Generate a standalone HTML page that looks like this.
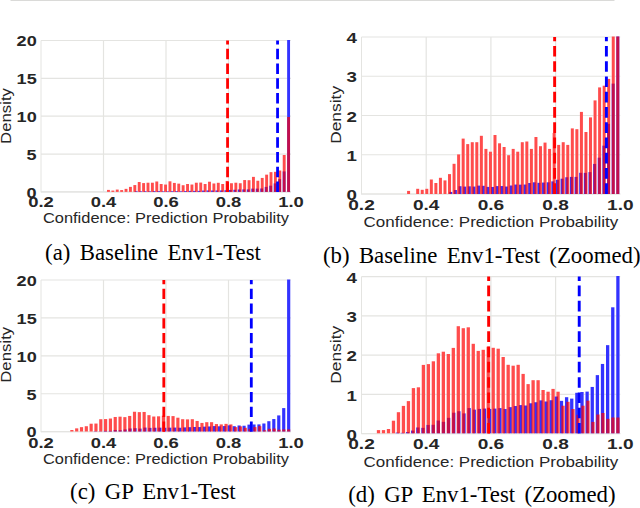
<!DOCTYPE html>
<html><head><meta charset="utf-8"><style>
html,body{margin:0;padding:0;background:#fff;width:640px;height:508px;overflow:hidden}
svg{display:block}
.tk{font-family:"Liberation Sans",sans-serif;font-weight:bold;fill:#262626}
.lb{font-family:"Liberation Sans",sans-serif;fill:#262626}
.cap{font-family:"Liberation Serif",serif;font-size:22.8px;word-spacing:3.6px;fill:#000}
</style></head><body>
<svg width="640" height="508" viewBox="0 0 640 508">
<rect x="0" y="0" width="640" height="508" fill="#fff"/>
<rect x="10.5" y="0" width="604" height="1" fill="#dadad8"/>
<g stroke="#e4e4e1" stroke-width="1.2"><line x1="41.00" y1="191.90" x2="291.00" y2="191.90" /><line x1="41.00" y1="154.05" x2="291.00" y2="154.05" /><line x1="41.00" y1="116.20" x2="291.00" y2="116.20" /><line x1="41.00" y1="78.35" x2="291.00" y2="78.35" /><line x1="41.00" y1="40.50" x2="291.00" y2="40.50" /><line x1="103.50" y1="40.50" x2="103.50" y2="191.90" /><line x1="166.00" y1="40.50" x2="166.00" y2="191.90" /><line x1="228.50" y1="40.50" x2="228.50" y2="191.90" /></g><g stroke="#e4e4e1" stroke-width="1"><line x1="41.00" y1="40.50" x2="41.00" y2="192.40" /><line x1="41.00" y1="191.90" x2="291.00" y2="191.90" /></g><clipPath id="c2"><rect x="41.00" y="40.00" width="252.00" height="151.90"/></clipPath><g clip-path="url(#c2)"><g fill="#fff"><rect x="134.74" y="191.20" width="2.90" height="0.70"/><rect x="139.22" y="191.27" width="2.90" height="0.63"/><rect x="143.70" y="191.22" width="2.90" height="0.68"/><rect x="148.19" y="191.27" width="2.90" height="0.63"/><rect x="152.67" y="191.08" width="2.90" height="0.82"/><rect x="157.15" y="191.12" width="2.90" height="0.78"/><rect x="161.63" y="191.33" width="2.90" height="0.57"/><rect x="166.12" y="191.34" width="2.90" height="0.56"/><rect x="170.60" y="191.18" width="2.90" height="0.72"/><rect x="175.08" y="191.16" width="2.90" height="0.74"/><rect x="179.56" y="191.26" width="2.90" height="0.64"/><rect x="184.04" y="191.06" width="2.90" height="0.84"/><rect x="188.53" y="190.88" width="2.90" height="1.02"/><rect x="193.01" y="190.90" width="2.90" height="1.00"/><rect x="197.49" y="190.87" width="2.90" height="1.03"/><rect x="201.97" y="190.58" width="2.90" height="1.32"/><rect x="206.46" y="190.44" width="2.90" height="1.46"/><rect x="210.94" y="190.54" width="2.90" height="1.36"/><rect x="215.42" y="190.49" width="2.90" height="1.41"/><rect x="219.90" y="190.44" width="2.90" height="1.46"/><rect x="224.38" y="190.26" width="2.90" height="1.64"/><rect x="228.87" y="189.95" width="2.90" height="1.95"/><rect x="233.35" y="189.75" width="2.90" height="2.15"/><rect x="237.83" y="189.47" width="2.90" height="2.43"/><rect x="242.31" y="189.40" width="2.90" height="2.50"/><rect x="246.80" y="189.40" width="2.90" height="2.50"/><rect x="251.28" y="188.61" width="2.90" height="3.29"/><rect x="255.76" y="188.62" width="2.90" height="3.28"/><rect x="260.24" y="188.48" width="2.90" height="3.42"/><rect x="264.72" y="186.90" width="2.90" height="5.00"/><rect x="269.21" y="185.69" width="2.90" height="6.21"/><rect x="273.69" y="183.37" width="2.90" height="8.53"/><rect x="278.17" y="179.16" width="2.90" height="12.74"/><rect x="282.65" y="171.41" width="2.90" height="20.49"/><rect x="287.14" y="38.50" width="2.90" height="153.40"/><rect x="107.01" y="189.90" width="2.90" height="2.00"/><rect x="111.40" y="190.58" width="2.90" height="1.32"/><rect x="115.79" y="189.58" width="2.90" height="2.32"/><rect x="120.19" y="190.08" width="2.90" height="1.82"/><rect x="124.58" y="188.86" width="2.90" height="3.04"/><rect x="128.97" y="186.88" width="2.90" height="5.02"/><rect x="133.37" y="185.06" width="2.90" height="6.84"/><rect x="137.76" y="182.02" width="2.90" height="9.88"/><rect x="142.15" y="183.08" width="2.90" height="8.82"/><rect x="146.55" y="182.71" width="2.90" height="9.19"/><rect x="150.94" y="182.71" width="2.90" height="9.19"/><rect x="155.33" y="181.48" width="2.90" height="10.42"/><rect x="159.73" y="184.00" width="2.90" height="7.90"/><rect x="164.12" y="184.54" width="2.90" height="7.36"/><rect x="168.51" y="181.32" width="2.90" height="10.58"/><rect x="172.91" y="182.92" width="2.90" height="8.98"/><rect x="177.30" y="183.64" width="2.90" height="8.26"/><rect x="181.69" y="185.22" width="2.90" height="6.68"/><rect x="186.09" y="184.00" width="2.90" height="7.90"/><rect x="190.48" y="184.54" width="2.90" height="7.36"/><rect x="194.87" y="182.71" width="2.90" height="9.19"/><rect x="199.27" y="182.57" width="2.90" height="9.33"/><rect x="203.66" y="184.00" width="2.90" height="7.90"/><rect x="208.05" y="181.71" width="2.90" height="10.19"/><rect x="212.45" y="183.48" width="2.90" height="8.42"/><rect x="216.84" y="182.79" width="2.90" height="9.11"/><rect x="221.23" y="184.00" width="2.90" height="7.90"/><rect x="225.63" y="180.94" width="2.90" height="10.96"/><rect x="230.02" y="183.23" width="2.90" height="8.67"/><rect x="234.41" y="182.71" width="2.90" height="9.19"/><rect x="238.81" y="183.23" width="2.90" height="8.67"/><rect x="243.20" y="180.05" width="2.90" height="11.85"/><rect x="247.59" y="180.20" width="2.90" height="11.70"/><rect x="251.99" y="176.87" width="2.90" height="15.03"/><rect x="256.38" y="180.74" width="2.90" height="11.16"/><rect x="260.78" y="177.93" width="2.90" height="13.97"/><rect x="265.17" y="174.65" width="2.90" height="17.25"/><rect x="269.56" y="172.14" width="2.90" height="19.76"/><rect x="273.96" y="171.81" width="2.90" height="20.09"/><rect x="278.35" y="170.50" width="2.90" height="21.40"/><rect x="282.74" y="155.00" width="2.90" height="36.90"/><rect x="287.14" y="117.00" width="2.90" height="74.90"/></g><rect x="134.74" y="191.20" width="2.90" height="0.70" fill="#0000ff" fill-opacity="0.8"/><rect x="139.22" y="191.27" width="2.90" height="0.63" fill="#0000ff" fill-opacity="0.8"/><rect x="143.70" y="191.22" width="2.90" height="0.68" fill="#0000ff" fill-opacity="0.8"/><rect x="148.19" y="191.27" width="2.90" height="0.63" fill="#0000ff" fill-opacity="0.8"/><rect x="152.67" y="191.08" width="2.90" height="0.82" fill="#0000ff" fill-opacity="0.8"/><rect x="157.15" y="191.12" width="2.90" height="0.78" fill="#0000ff" fill-opacity="0.8"/><rect x="161.63" y="191.33" width="2.90" height="0.57" fill="#0000ff" fill-opacity="0.8"/><rect x="166.12" y="191.34" width="2.90" height="0.56" fill="#0000ff" fill-opacity="0.8"/><rect x="170.60" y="191.18" width="2.90" height="0.72" fill="#0000ff" fill-opacity="0.8"/><rect x="175.08" y="191.16" width="2.90" height="0.74" fill="#0000ff" fill-opacity="0.8"/><rect x="179.56" y="191.26" width="2.90" height="0.64" fill="#0000ff" fill-opacity="0.8"/><rect x="184.04" y="191.06" width="2.90" height="0.84" fill="#0000ff" fill-opacity="0.8"/><rect x="188.53" y="190.88" width="2.90" height="1.02" fill="#0000ff" fill-opacity="0.8"/><rect x="193.01" y="190.90" width="2.90" height="1.00" fill="#0000ff" fill-opacity="0.8"/><rect x="197.49" y="190.87" width="2.90" height="1.03" fill="#0000ff" fill-opacity="0.8"/><rect x="201.97" y="190.58" width="2.90" height="1.32" fill="#0000ff" fill-opacity="0.8"/><rect x="206.46" y="190.44" width="2.90" height="1.46" fill="#0000ff" fill-opacity="0.8"/><rect x="210.94" y="190.54" width="2.90" height="1.36" fill="#0000ff" fill-opacity="0.8"/><rect x="215.42" y="190.49" width="2.90" height="1.41" fill="#0000ff" fill-opacity="0.8"/><rect x="219.90" y="190.44" width="2.90" height="1.46" fill="#0000ff" fill-opacity="0.8"/><rect x="224.38" y="190.26" width="2.90" height="1.64" fill="#0000ff" fill-opacity="0.8"/><rect x="228.87" y="189.95" width="2.90" height="1.95" fill="#0000ff" fill-opacity="0.8"/><rect x="233.35" y="189.75" width="2.90" height="2.15" fill="#0000ff" fill-opacity="0.8"/><rect x="237.83" y="189.47" width="2.90" height="2.43" fill="#0000ff" fill-opacity="0.8"/><rect x="242.31" y="189.40" width="2.90" height="2.50" fill="#0000ff" fill-opacity="0.8"/><rect x="246.80" y="189.40" width="2.90" height="2.50" fill="#0000ff" fill-opacity="0.8"/><rect x="251.28" y="188.61" width="2.90" height="3.29" fill="#0000ff" fill-opacity="0.8"/><rect x="255.76" y="188.62" width="2.90" height="3.28" fill="#0000ff" fill-opacity="0.8"/><rect x="260.24" y="188.48" width="2.90" height="3.42" fill="#0000ff" fill-opacity="0.8"/><rect x="264.72" y="186.90" width="2.90" height="5.00" fill="#0000ff" fill-opacity="0.8"/><rect x="269.21" y="185.69" width="2.90" height="6.21" fill="#0000ff" fill-opacity="0.8"/><rect x="273.69" y="183.37" width="2.90" height="8.53" fill="#0000ff" fill-opacity="0.8"/><rect x="278.17" y="179.16" width="2.90" height="12.74" fill="#0000ff" fill-opacity="0.8"/><rect x="282.65" y="171.41" width="2.90" height="20.49" fill="#0000ff" fill-opacity="0.8"/><rect x="287.14" y="38.50" width="2.90" height="153.40" fill="#0000ff" fill-opacity="0.8"/><rect x="107.01" y="189.90" width="2.90" height="2.00" fill="#ff0000" fill-opacity="0.7"/><rect x="111.40" y="190.58" width="2.90" height="1.32" fill="#ff0000" fill-opacity="0.7"/><rect x="115.79" y="189.58" width="2.90" height="2.32" fill="#ff0000" fill-opacity="0.7"/><rect x="120.19" y="190.08" width="2.90" height="1.82" fill="#ff0000" fill-opacity="0.7"/><rect x="124.58" y="188.86" width="2.90" height="3.04" fill="#ff0000" fill-opacity="0.7"/><rect x="128.97" y="186.88" width="2.90" height="5.02" fill="#ff0000" fill-opacity="0.7"/><rect x="133.37" y="185.06" width="2.90" height="6.84" fill="#ff0000" fill-opacity="0.7"/><rect x="137.76" y="182.02" width="2.90" height="9.88" fill="#ff0000" fill-opacity="0.7"/><rect x="142.15" y="183.08" width="2.90" height="8.82" fill="#ff0000" fill-opacity="0.7"/><rect x="146.55" y="182.71" width="2.90" height="9.19" fill="#ff0000" fill-opacity="0.7"/><rect x="150.94" y="182.71" width="2.90" height="9.19" fill="#ff0000" fill-opacity="0.7"/><rect x="155.33" y="181.48" width="2.90" height="10.42" fill="#ff0000" fill-opacity="0.7"/><rect x="159.73" y="184.00" width="2.90" height="7.90" fill="#ff0000" fill-opacity="0.7"/><rect x="164.12" y="184.54" width="2.90" height="7.36" fill="#ff0000" fill-opacity="0.7"/><rect x="168.51" y="181.32" width="2.90" height="10.58" fill="#ff0000" fill-opacity="0.7"/><rect x="172.91" y="182.92" width="2.90" height="8.98" fill="#ff0000" fill-opacity="0.7"/><rect x="177.30" y="183.64" width="2.90" height="8.26" fill="#ff0000" fill-opacity="0.7"/><rect x="181.69" y="185.22" width="2.90" height="6.68" fill="#ff0000" fill-opacity="0.7"/><rect x="186.09" y="184.00" width="2.90" height="7.90" fill="#ff0000" fill-opacity="0.7"/><rect x="190.48" y="184.54" width="2.90" height="7.36" fill="#ff0000" fill-opacity="0.7"/><rect x="194.87" y="182.71" width="2.90" height="9.19" fill="#ff0000" fill-opacity="0.7"/><rect x="199.27" y="182.57" width="2.90" height="9.33" fill="#ff0000" fill-opacity="0.7"/><rect x="203.66" y="184.00" width="2.90" height="7.90" fill="#ff0000" fill-opacity="0.7"/><rect x="208.05" y="181.71" width="2.90" height="10.19" fill="#ff0000" fill-opacity="0.7"/><rect x="212.45" y="183.48" width="2.90" height="8.42" fill="#ff0000" fill-opacity="0.7"/><rect x="216.84" y="182.79" width="2.90" height="9.11" fill="#ff0000" fill-opacity="0.7"/><rect x="221.23" y="184.00" width="2.90" height="7.90" fill="#ff0000" fill-opacity="0.7"/><rect x="225.63" y="180.94" width="2.90" height="10.96" fill="#ff0000" fill-opacity="0.7"/><rect x="230.02" y="183.23" width="2.90" height="8.67" fill="#ff0000" fill-opacity="0.7"/><rect x="234.41" y="182.71" width="2.90" height="9.19" fill="#ff0000" fill-opacity="0.7"/><rect x="238.81" y="183.23" width="2.90" height="8.67" fill="#ff0000" fill-opacity="0.7"/><rect x="243.20" y="180.05" width="2.90" height="11.85" fill="#ff0000" fill-opacity="0.7"/><rect x="247.59" y="180.20" width="2.90" height="11.70" fill="#ff0000" fill-opacity="0.7"/><rect x="251.99" y="176.87" width="2.90" height="15.03" fill="#ff0000" fill-opacity="0.7"/><rect x="256.38" y="180.74" width="2.90" height="11.16" fill="#ff0000" fill-opacity="0.7"/><rect x="260.78" y="177.93" width="2.90" height="13.97" fill="#ff0000" fill-opacity="0.7"/><rect x="265.17" y="174.65" width="2.90" height="17.25" fill="#ff0000" fill-opacity="0.7"/><rect x="269.56" y="172.14" width="2.90" height="19.76" fill="#ff0000" fill-opacity="0.7"/><rect x="273.96" y="171.81" width="2.90" height="20.09" fill="#ff0000" fill-opacity="0.7"/><rect x="278.35" y="170.50" width="2.90" height="21.40" fill="#ff0000" fill-opacity="0.7"/><rect x="282.74" y="155.00" width="2.90" height="36.90" fill="#ff0000" fill-opacity="0.7"/><rect x="287.14" y="117.00" width="2.90" height="74.90" fill="#ff0000" fill-opacity="0.7"/></g><line x1="227.56" y1="191.90" x2="227.56" y2="40.50" stroke="#ff0000" stroke-width="2.80" stroke-dasharray="10.30 4.45"/><line x1="277.56" y1="191.90" x2="277.56" y2="40.50" stroke="#0000ff" stroke-width="2.80" stroke-dasharray="10.30 4.45"/><text x="36.70" y="197.65" text-anchor="end" class="tk" font-size="14.60" textLength="10.06" lengthAdjust="spacingAndGlyphs">0</text><text x="36.70" y="159.80" text-anchor="end" class="tk" font-size="14.60" textLength="10.06" lengthAdjust="spacingAndGlyphs">5</text><text x="36.70" y="121.95" text-anchor="end" class="tk" font-size="14.60" textLength="20.12" lengthAdjust="spacingAndGlyphs">10</text><text x="36.70" y="84.10" text-anchor="end" class="tk" font-size="14.60" textLength="20.12" lengthAdjust="spacingAndGlyphs">15</text><text x="36.70" y="46.25" text-anchor="end" class="tk" font-size="14.60" textLength="20.12" lengthAdjust="spacingAndGlyphs">20</text><text x="41.00" y="207.20" text-anchor="middle" class="tk" font-size="14.60" textLength="25.60" lengthAdjust="spacingAndGlyphs">0.2</text><text x="103.50" y="207.20" text-anchor="middle" class="tk" font-size="14.60" textLength="25.60" lengthAdjust="spacingAndGlyphs">0.4</text><text x="166.00" y="207.20" text-anchor="middle" class="tk" font-size="14.60" textLength="25.60" lengthAdjust="spacingAndGlyphs">0.6</text><text x="228.50" y="207.20" text-anchor="middle" class="tk" font-size="14.60" textLength="25.60" lengthAdjust="spacingAndGlyphs">0.8</text><text x="291.00" y="207.20" text-anchor="middle" class="tk" font-size="14.60" textLength="25.60" lengthAdjust="spacingAndGlyphs">1.0</text><text x="166.00" y="223.00" text-anchor="middle" class="lb" font-size="14.50" textLength="246.00" lengthAdjust="spacingAndGlyphs">Confidence: Prediction Probability</text><text transform="translate(11.30,116.00) rotate(-90)" text-anchor="middle" class="lb" font-size="14.80" textLength="56.00" lengthAdjust="spacingAndGlyphs">Density</text><g stroke="#e4e4e1" stroke-width="1.2"><line x1="361.50" y1="194.00" x2="620.30" y2="194.00" /><line x1="361.50" y1="154.75" x2="620.30" y2="154.75" /><line x1="361.50" y1="115.50" x2="620.30" y2="115.50" /><line x1="361.50" y1="76.25" x2="620.30" y2="76.25" /><line x1="361.50" y1="37.00" x2="620.30" y2="37.00" /><line x1="426.20" y1="37.00" x2="426.20" y2="194.00" /><line x1="490.90" y1="37.00" x2="490.90" y2="194.00" /><line x1="555.60" y1="37.00" x2="555.60" y2="194.00" /></g><g stroke="#e4e4e1" stroke-width="1"><line x1="361.50" y1="37.00" x2="361.50" y2="194.50" /><line x1="361.50" y1="194.00" x2="620.30" y2="194.00" /></g><clipPath id="c20"><rect x="361.50" y="36.50" width="260.80" height="157.50"/></clipPath><g clip-path="url(#c20)"><g fill="#fff"><rect x="449.26" y="191.92" width="3.00" height="2.08"/><rect x="453.90" y="190.01" width="3.00" height="3.99"/><rect x="458.54" y="186.21" width="3.00" height="7.79"/><rect x="463.18" y="186.60" width="3.00" height="7.40"/><rect x="467.82" y="186.32" width="3.00" height="7.68"/><rect x="472.46" y="186.56" width="3.00" height="7.44"/><rect x="477.10" y="185.61" width="3.00" height="8.39"/><rect x="481.74" y="185.79" width="3.00" height="8.21"/><rect x="486.38" y="186.90" width="3.00" height="7.10"/><rect x="491.02" y="186.95" width="3.00" height="7.05"/><rect x="495.66" y="186.10" width="3.00" height="7.90"/><rect x="500.30" y="186.04" width="3.00" height="7.96"/><rect x="504.94" y="186.54" width="3.00" height="7.46"/><rect x="509.58" y="185.51" width="3.00" height="8.49"/><rect x="514.22" y="184.56" width="3.00" height="9.44"/><rect x="518.86" y="184.66" width="3.00" height="9.34"/><rect x="523.50" y="184.52" width="3.00" height="9.48"/><rect x="528.14" y="183.03" width="3.00" height="10.97"/><rect x="532.78" y="182.30" width="3.00" height="11.70"/><rect x="537.42" y="182.82" width="3.00" height="11.18"/><rect x="542.06" y="182.56" width="3.00" height="11.44"/><rect x="546.70" y="182.30" width="3.00" height="11.70"/><rect x="551.34" y="181.37" width="3.00" height="12.63"/><rect x="555.98" y="179.75" width="3.00" height="14.25"/><rect x="560.62" y="178.69" width="3.00" height="15.31"/><rect x="565.26" y="177.26" width="3.00" height="16.74"/><rect x="569.90" y="176.90" width="3.00" height="17.10"/><rect x="574.54" y="176.90" width="3.00" height="17.10"/><rect x="579.18" y="172.79" width="3.00" height="21.21"/><rect x="583.82" y="172.86" width="3.00" height="21.14"/><rect x="588.46" y="172.12" width="3.00" height="21.88"/><rect x="593.10" y="163.91" width="3.00" height="30.09"/><rect x="597.74" y="157.67" width="3.00" height="36.33"/><rect x="602.38" y="145.65" width="3.00" height="48.35"/><rect x="607.02" y="123.79" width="3.00" height="70.21"/><rect x="611.66" y="83.61" width="3.00" height="110.39"/><rect x="616.30" y="35.00" width="3.00" height="159.00"/><rect x="407.09" y="190.90" width="3.00" height="3.10"/><rect x="416.19" y="188.80" width="3.00" height="5.20"/><rect x="420.74" y="189.80" width="3.00" height="4.20"/><rect x="425.28" y="188.80" width="3.00" height="5.20"/><rect x="429.83" y="179.50" width="3.00" height="14.50"/><rect x="434.38" y="183.00" width="3.00" height="11.00"/><rect x="438.93" y="177.80" width="3.00" height="16.20"/><rect x="443.48" y="180.40" width="3.00" height="13.60"/><rect x="448.02" y="174.10" width="3.00" height="19.90"/><rect x="452.57" y="163.80" width="3.00" height="30.20"/><rect x="457.12" y="154.40" width="3.00" height="39.60"/><rect x="461.67" y="138.60" width="3.00" height="55.40"/><rect x="466.22" y="144.10" width="3.00" height="49.90"/><rect x="470.76" y="142.20" width="3.00" height="51.80"/><rect x="475.31" y="142.20" width="3.00" height="51.80"/><rect x="479.86" y="135.80" width="3.00" height="58.20"/><rect x="484.41" y="148.90" width="3.00" height="45.10"/><rect x="488.96" y="151.70" width="3.00" height="42.30"/><rect x="493.50" y="135.00" width="3.00" height="59.00"/><rect x="498.05" y="143.30" width="3.00" height="50.70"/><rect x="502.60" y="147.00" width="3.00" height="47.00"/><rect x="507.15" y="155.20" width="3.00" height="38.80"/><rect x="511.70" y="148.90" width="3.00" height="45.10"/><rect x="516.24" y="151.70" width="3.00" height="42.30"/><rect x="520.79" y="142.20" width="3.00" height="51.80"/><rect x="525.34" y="141.50" width="3.00" height="52.50"/><rect x="529.89" y="148.90" width="3.00" height="45.10"/><rect x="534.44" y="137.00" width="3.00" height="57.00"/><rect x="538.98" y="146.20" width="3.00" height="47.80"/><rect x="543.53" y="142.60" width="3.00" height="51.40"/><rect x="548.08" y="148.90" width="3.00" height="45.10"/><rect x="552.63" y="133.00" width="3.00" height="61.00"/><rect x="557.18" y="144.90" width="3.00" height="49.10"/><rect x="561.72" y="142.20" width="3.00" height="51.80"/><rect x="566.27" y="144.90" width="3.00" height="49.10"/><rect x="570.82" y="128.40" width="3.00" height="65.60"/><rect x="575.37" y="129.20" width="3.00" height="64.80"/><rect x="579.92" y="111.90" width="3.00" height="82.10"/><rect x="584.46" y="132.00" width="3.00" height="62.00"/><rect x="589.01" y="117.40" width="3.00" height="76.60"/><rect x="593.56" y="100.40" width="3.00" height="93.60"/><rect x="598.11" y="87.40" width="3.00" height="106.60"/><rect x="602.66" y="85.70" width="3.00" height="108.30"/><rect x="607.20" y="78.90" width="3.00" height="115.10"/><rect x="611.75" y="35.00" width="3.00" height="159.00"/><rect x="616.30" y="35.00" width="3.00" height="159.00"/></g><rect x="449.26" y="191.92" width="3.00" height="2.08" fill="#0000ff" fill-opacity="0.8"/><rect x="453.90" y="190.01" width="3.00" height="3.99" fill="#0000ff" fill-opacity="0.8"/><rect x="458.54" y="186.21" width="3.00" height="7.79" fill="#0000ff" fill-opacity="0.8"/><rect x="463.18" y="186.60" width="3.00" height="7.40" fill="#0000ff" fill-opacity="0.8"/><rect x="467.82" y="186.32" width="3.00" height="7.68" fill="#0000ff" fill-opacity="0.8"/><rect x="472.46" y="186.56" width="3.00" height="7.44" fill="#0000ff" fill-opacity="0.8"/><rect x="477.10" y="185.61" width="3.00" height="8.39" fill="#0000ff" fill-opacity="0.8"/><rect x="481.74" y="185.79" width="3.00" height="8.21" fill="#0000ff" fill-opacity="0.8"/><rect x="486.38" y="186.90" width="3.00" height="7.10" fill="#0000ff" fill-opacity="0.8"/><rect x="491.02" y="186.95" width="3.00" height="7.05" fill="#0000ff" fill-opacity="0.8"/><rect x="495.66" y="186.10" width="3.00" height="7.90" fill="#0000ff" fill-opacity="0.8"/><rect x="500.30" y="186.04" width="3.00" height="7.96" fill="#0000ff" fill-opacity="0.8"/><rect x="504.94" y="186.54" width="3.00" height="7.46" fill="#0000ff" fill-opacity="0.8"/><rect x="509.58" y="185.51" width="3.00" height="8.49" fill="#0000ff" fill-opacity="0.8"/><rect x="514.22" y="184.56" width="3.00" height="9.44" fill="#0000ff" fill-opacity="0.8"/><rect x="518.86" y="184.66" width="3.00" height="9.34" fill="#0000ff" fill-opacity="0.8"/><rect x="523.50" y="184.52" width="3.00" height="9.48" fill="#0000ff" fill-opacity="0.8"/><rect x="528.14" y="183.03" width="3.00" height="10.97" fill="#0000ff" fill-opacity="0.8"/><rect x="532.78" y="182.30" width="3.00" height="11.70" fill="#0000ff" fill-opacity="0.8"/><rect x="537.42" y="182.82" width="3.00" height="11.18" fill="#0000ff" fill-opacity="0.8"/><rect x="542.06" y="182.56" width="3.00" height="11.44" fill="#0000ff" fill-opacity="0.8"/><rect x="546.70" y="182.30" width="3.00" height="11.70" fill="#0000ff" fill-opacity="0.8"/><rect x="551.34" y="181.37" width="3.00" height="12.63" fill="#0000ff" fill-opacity="0.8"/><rect x="555.98" y="179.75" width="3.00" height="14.25" fill="#0000ff" fill-opacity="0.8"/><rect x="560.62" y="178.69" width="3.00" height="15.31" fill="#0000ff" fill-opacity="0.8"/><rect x="565.26" y="177.26" width="3.00" height="16.74" fill="#0000ff" fill-opacity="0.8"/><rect x="569.90" y="176.90" width="3.00" height="17.10" fill="#0000ff" fill-opacity="0.8"/><rect x="574.54" y="176.90" width="3.00" height="17.10" fill="#0000ff" fill-opacity="0.8"/><rect x="579.18" y="172.79" width="3.00" height="21.21" fill="#0000ff" fill-opacity="0.8"/><rect x="583.82" y="172.86" width="3.00" height="21.14" fill="#0000ff" fill-opacity="0.8"/><rect x="588.46" y="172.12" width="3.00" height="21.88" fill="#0000ff" fill-opacity="0.8"/><rect x="593.10" y="163.91" width="3.00" height="30.09" fill="#0000ff" fill-opacity="0.8"/><rect x="597.74" y="157.67" width="3.00" height="36.33" fill="#0000ff" fill-opacity="0.8"/><rect x="602.38" y="145.65" width="3.00" height="48.35" fill="#0000ff" fill-opacity="0.8"/><rect x="607.02" y="123.79" width="3.00" height="70.21" fill="#0000ff" fill-opacity="0.8"/><rect x="611.66" y="83.61" width="3.00" height="110.39" fill="#0000ff" fill-opacity="0.8"/><rect x="616.30" y="35.00" width="3.00" height="159.00" fill="#0000ff" fill-opacity="0.8"/><rect x="407.09" y="190.90" width="3.00" height="3.10" fill="#ff0000" fill-opacity="0.7"/><rect x="416.19" y="188.80" width="3.00" height="5.20" fill="#ff0000" fill-opacity="0.7"/><rect x="420.74" y="189.80" width="3.00" height="4.20" fill="#ff0000" fill-opacity="0.7"/><rect x="425.28" y="188.80" width="3.00" height="5.20" fill="#ff0000" fill-opacity="0.7"/><rect x="429.83" y="179.50" width="3.00" height="14.50" fill="#ff0000" fill-opacity="0.7"/><rect x="434.38" y="183.00" width="3.00" height="11.00" fill="#ff0000" fill-opacity="0.7"/><rect x="438.93" y="177.80" width="3.00" height="16.20" fill="#ff0000" fill-opacity="0.7"/><rect x="443.48" y="180.40" width="3.00" height="13.60" fill="#ff0000" fill-opacity="0.7"/><rect x="448.02" y="174.10" width="3.00" height="19.90" fill="#ff0000" fill-opacity="0.7"/><rect x="452.57" y="163.80" width="3.00" height="30.20" fill="#ff0000" fill-opacity="0.7"/><rect x="457.12" y="154.40" width="3.00" height="39.60" fill="#ff0000" fill-opacity="0.7"/><rect x="461.67" y="138.60" width="3.00" height="55.40" fill="#ff0000" fill-opacity="0.7"/><rect x="466.22" y="144.10" width="3.00" height="49.90" fill="#ff0000" fill-opacity="0.7"/><rect x="470.76" y="142.20" width="3.00" height="51.80" fill="#ff0000" fill-opacity="0.7"/><rect x="475.31" y="142.20" width="3.00" height="51.80" fill="#ff0000" fill-opacity="0.7"/><rect x="479.86" y="135.80" width="3.00" height="58.20" fill="#ff0000" fill-opacity="0.7"/><rect x="484.41" y="148.90" width="3.00" height="45.10" fill="#ff0000" fill-opacity="0.7"/><rect x="488.96" y="151.70" width="3.00" height="42.30" fill="#ff0000" fill-opacity="0.7"/><rect x="493.50" y="135.00" width="3.00" height="59.00" fill="#ff0000" fill-opacity="0.7"/><rect x="498.05" y="143.30" width="3.00" height="50.70" fill="#ff0000" fill-opacity="0.7"/><rect x="502.60" y="147.00" width="3.00" height="47.00" fill="#ff0000" fill-opacity="0.7"/><rect x="507.15" y="155.20" width="3.00" height="38.80" fill="#ff0000" fill-opacity="0.7"/><rect x="511.70" y="148.90" width="3.00" height="45.10" fill="#ff0000" fill-opacity="0.7"/><rect x="516.24" y="151.70" width="3.00" height="42.30" fill="#ff0000" fill-opacity="0.7"/><rect x="520.79" y="142.20" width="3.00" height="51.80" fill="#ff0000" fill-opacity="0.7"/><rect x="525.34" y="141.50" width="3.00" height="52.50" fill="#ff0000" fill-opacity="0.7"/><rect x="529.89" y="148.90" width="3.00" height="45.10" fill="#ff0000" fill-opacity="0.7"/><rect x="534.44" y="137.00" width="3.00" height="57.00" fill="#ff0000" fill-opacity="0.7"/><rect x="538.98" y="146.20" width="3.00" height="47.80" fill="#ff0000" fill-opacity="0.7"/><rect x="543.53" y="142.60" width="3.00" height="51.40" fill="#ff0000" fill-opacity="0.7"/><rect x="548.08" y="148.90" width="3.00" height="45.10" fill="#ff0000" fill-opacity="0.7"/><rect x="552.63" y="133.00" width="3.00" height="61.00" fill="#ff0000" fill-opacity="0.7"/><rect x="557.18" y="144.90" width="3.00" height="49.10" fill="#ff0000" fill-opacity="0.7"/><rect x="561.72" y="142.20" width="3.00" height="51.80" fill="#ff0000" fill-opacity="0.7"/><rect x="566.27" y="144.90" width="3.00" height="49.10" fill="#ff0000" fill-opacity="0.7"/><rect x="570.82" y="128.40" width="3.00" height="65.60" fill="#ff0000" fill-opacity="0.7"/><rect x="575.37" y="129.20" width="3.00" height="64.80" fill="#ff0000" fill-opacity="0.7"/><rect x="579.92" y="111.90" width="3.00" height="82.10" fill="#ff0000" fill-opacity="0.7"/><rect x="584.46" y="132.00" width="3.00" height="62.00" fill="#ff0000" fill-opacity="0.7"/><rect x="589.01" y="117.40" width="3.00" height="76.60" fill="#ff0000" fill-opacity="0.7"/><rect x="593.56" y="100.40" width="3.00" height="93.60" fill="#ff0000" fill-opacity="0.7"/><rect x="598.11" y="87.40" width="3.00" height="106.60" fill="#ff0000" fill-opacity="0.7"/><rect x="602.66" y="85.70" width="3.00" height="108.30" fill="#ff0000" fill-opacity="0.7"/><rect x="607.20" y="78.90" width="3.00" height="115.10" fill="#ff0000" fill-opacity="0.7"/><rect x="611.75" y="35.00" width="3.00" height="159.00" fill="#ff0000" fill-opacity="0.7"/><rect x="616.30" y="35.00" width="3.00" height="159.00" fill="#ff0000" fill-opacity="0.7"/></g><line x1="554.63" y1="194.00" x2="554.63" y2="37.00" stroke="#ff0000" stroke-width="2.90" stroke-dasharray="10.66 4.61"/><line x1="606.39" y1="194.00" x2="606.39" y2="37.00" stroke="#0000ff" stroke-width="2.90" stroke-dasharray="10.66 4.61"/><text x="357.05" y="200.23" text-anchor="end" class="tk" font-size="15.11" textLength="10.41" lengthAdjust="spacingAndGlyphs">0</text><text x="357.05" y="160.98" text-anchor="end" class="tk" font-size="15.11" textLength="10.41" lengthAdjust="spacingAndGlyphs">1</text><text x="357.05" y="121.73" text-anchor="end" class="tk" font-size="15.11" textLength="10.41" lengthAdjust="spacingAndGlyphs">2</text><text x="357.05" y="82.48" text-anchor="end" class="tk" font-size="15.11" textLength="10.41" lengthAdjust="spacingAndGlyphs">3</text><text x="357.05" y="43.23" text-anchor="end" class="tk" font-size="15.11" textLength="10.41" lengthAdjust="spacingAndGlyphs">4</text><text x="361.50" y="210.00" text-anchor="middle" class="tk" font-size="15.11" textLength="26.50" lengthAdjust="spacingAndGlyphs">0.2</text><text x="426.20" y="210.00" text-anchor="middle" class="tk" font-size="15.11" textLength="26.50" lengthAdjust="spacingAndGlyphs">0.4</text><text x="490.90" y="210.00" text-anchor="middle" class="tk" font-size="15.11" textLength="26.50" lengthAdjust="spacingAndGlyphs">0.6</text><text x="555.60" y="210.00" text-anchor="middle" class="tk" font-size="15.11" textLength="26.50" lengthAdjust="spacingAndGlyphs">0.8</text><text x="620.30" y="210.00" text-anchor="middle" class="tk" font-size="15.11" textLength="26.50" lengthAdjust="spacingAndGlyphs">1.0</text><text x="490.90" y="226.70" text-anchor="middle" class="lb" font-size="15.01" textLength="254.61" lengthAdjust="spacingAndGlyphs">Confidence: Prediction Probability</text><text transform="translate(341.00,114.90) rotate(-90)" text-anchor="middle" class="lb" font-size="15.32" textLength="57.96" lengthAdjust="spacingAndGlyphs">Density</text><g stroke="#e4e4e1" stroke-width="1.2"><line x1="41.00" y1="431.70" x2="291.00" y2="431.70" /><line x1="41.00" y1="393.77" x2="291.00" y2="393.77" /><line x1="41.00" y1="355.85" x2="291.00" y2="355.85" /><line x1="41.00" y1="317.93" x2="291.00" y2="317.93" /><line x1="41.00" y1="280.00" x2="291.00" y2="280.00" /><line x1="103.50" y1="280.00" x2="103.50" y2="431.70" /><line x1="166.00" y1="280.00" x2="166.00" y2="431.70" /><line x1="228.50" y1="280.00" x2="228.50" y2="431.70" /></g><g stroke="#e4e4e1" stroke-width="1"><line x1="41.00" y1="280.00" x2="41.00" y2="432.20" /><line x1="41.00" y1="431.70" x2="291.00" y2="431.70" /></g><clipPath id="c38"><rect x="41.00" y="279.50" width="252.00" height="152.20"/></clipPath><g clip-path="url(#c38)"><g fill="#fff"><rect x="93.83" y="431.32" width="3.17" height="0.38"/><rect x="98.78" y="431.39" width="3.17" height="0.31"/><rect x="103.74" y="430.82" width="3.17" height="0.88"/><rect x="108.69" y="430.80" width="3.17" height="0.90"/><rect x="113.65" y="429.97" width="3.17" height="1.73"/><rect x="118.61" y="430.23" width="3.17" height="1.47"/><rect x="123.56" y="429.45" width="3.17" height="2.25"/><rect x="128.52" y="428.46" width="3.17" height="3.24"/><rect x="133.47" y="428.18" width="3.17" height="3.52"/><rect x="138.43" y="428.59" width="3.17" height="3.11"/><rect x="143.38" y="427.56" width="3.17" height="4.14"/><rect x="148.34" y="427.87" width="3.17" height="3.83"/><rect x="153.29" y="427.73" width="3.17" height="3.97"/><rect x="158.25" y="427.66" width="3.17" height="4.04"/><rect x="163.21" y="427.75" width="3.17" height="3.95"/><rect x="168.16" y="427.67" width="3.17" height="4.03"/><rect x="173.12" y="427.57" width="3.17" height="4.13"/><rect x="178.07" y="427.74" width="3.17" height="3.96"/><rect x="183.03" y="427.39" width="3.17" height="4.31"/><rect x="187.98" y="427.17" width="3.17" height="4.53"/><rect x="192.94" y="426.99" width="3.17" height="4.71"/><rect x="197.89" y="427.07" width="3.17" height="4.63"/><rect x="202.85" y="426.64" width="3.17" height="5.06"/><rect x="207.81" y="426.44" width="3.17" height="5.26"/><rect x="212.76" y="426.08" width="3.17" height="5.62"/><rect x="217.72" y="426.29" width="3.17" height="5.41"/><rect x="222.67" y="426.05" width="3.17" height="5.65"/><rect x="227.63" y="425.33" width="3.17" height="6.37"/><rect x="232.58" y="426.17" width="3.17" height="5.53"/><rect x="237.54" y="425.47" width="3.17" height="6.23"/><rect x="242.49" y="425.74" width="3.17" height="5.96"/><rect x="247.45" y="424.61" width="3.17" height="7.09"/><rect x="252.41" y="424.46" width="3.17" height="7.24"/><rect x="257.36" y="424.39" width="3.17" height="7.31"/><rect x="262.32" y="423.48" width="3.17" height="8.22"/><rect x="267.27" y="421.20" width="3.17" height="10.50"/><rect x="272.23" y="419.04" width="3.17" height="12.66"/><rect x="277.18" y="415.41" width="3.17" height="16.29"/><rect x="282.14" y="408.09" width="3.17" height="23.61"/><rect x="287.09" y="278.00" width="3.17" height="153.70"/><rect x="70.29" y="430.01" width="3.17" height="1.69"/><rect x="75.11" y="428.36" width="3.17" height="3.34"/><rect x="79.92" y="427.15" width="3.17" height="4.55"/><rect x="84.74" y="426.22" width="3.17" height="5.48"/><rect x="89.56" y="423.71" width="3.17" height="7.99"/><rect x="94.38" y="423.55" width="3.17" height="8.15"/><rect x="99.20" y="419.22" width="3.17" height="12.48"/><rect x="104.01" y="419.07" width="3.17" height="12.63"/><rect x="108.83" y="418.53" width="3.17" height="13.17"/><rect x="113.65" y="416.98" width="3.17" height="14.72"/><rect x="118.47" y="416.67" width="3.17" height="15.03"/><rect x="123.29" y="417.12" width="3.17" height="14.58"/><rect x="128.10" y="415.94" width="3.17" height="15.76"/><rect x="132.92" y="411.75" width="3.17" height="19.95"/><rect x="137.74" y="412.13" width="3.17" height="19.57"/><rect x="142.56" y="411.96" width="3.17" height="19.74"/><rect x="147.38" y="415.15" width="3.17" height="16.55"/><rect x="152.19" y="416.52" width="3.17" height="15.18"/><rect x="157.01" y="416.31" width="3.17" height="15.39"/><rect x="161.83" y="415.71" width="3.17" height="15.99"/><rect x="166.65" y="415.92" width="3.17" height="15.78"/><rect x="171.46" y="416.09" width="3.17" height="15.61"/><rect x="176.28" y="417.70" width="3.17" height="14.00"/><rect x="181.10" y="419.20" width="3.17" height="12.50"/><rect x="185.92" y="419.38" width="3.17" height="12.32"/><rect x="190.74" y="419.20" width="3.17" height="12.50"/><rect x="195.55" y="420.96" width="3.17" height="10.74"/><rect x="200.37" y="422.93" width="3.17" height="8.77"/><rect x="205.19" y="422.18" width="3.17" height="9.52"/><rect x="210.01" y="422.18" width="3.17" height="9.52"/><rect x="214.83" y="424.07" width="3.17" height="7.63"/><rect x="219.64" y="424.40" width="3.17" height="7.30"/><rect x="224.46" y="423.86" width="3.17" height="7.84"/><rect x="229.28" y="424.40" width="3.17" height="7.30"/><rect x="234.10" y="427.11" width="3.17" height="4.59"/><rect x="238.92" y="426.35" width="3.17" height="5.35"/><rect x="243.73" y="427.75" width="3.17" height="3.95"/><rect x="248.55" y="428.87" width="3.17" height="2.83"/><rect x="253.37" y="427.11" width="3.17" height="4.59"/><rect x="258.19" y="426.14" width="3.17" height="5.56"/><rect x="263.00" y="430.24" width="3.17" height="1.46"/><rect x="267.82" y="428.81" width="3.17" height="2.89"/><rect x="272.64" y="428.52" width="3.17" height="3.18"/><rect x="277.46" y="429.64" width="3.17" height="2.06"/><rect x="282.28" y="429.39" width="3.17" height="2.31"/><rect x="287.09" y="429.39" width="3.17" height="2.31"/></g><rect x="93.83" y="431.32" width="3.17" height="0.38" fill="#0000ff" fill-opacity="0.8"/><rect x="98.78" y="431.39" width="3.17" height="0.31" fill="#0000ff" fill-opacity="0.8"/><rect x="103.74" y="430.82" width="3.17" height="0.88" fill="#0000ff" fill-opacity="0.8"/><rect x="108.69" y="430.80" width="3.17" height="0.90" fill="#0000ff" fill-opacity="0.8"/><rect x="113.65" y="429.97" width="3.17" height="1.73" fill="#0000ff" fill-opacity="0.8"/><rect x="118.61" y="430.23" width="3.17" height="1.47" fill="#0000ff" fill-opacity="0.8"/><rect x="123.56" y="429.45" width="3.17" height="2.25" fill="#0000ff" fill-opacity="0.8"/><rect x="128.52" y="428.46" width="3.17" height="3.24" fill="#0000ff" fill-opacity="0.8"/><rect x="133.47" y="428.18" width="3.17" height="3.52" fill="#0000ff" fill-opacity="0.8"/><rect x="138.43" y="428.59" width="3.17" height="3.11" fill="#0000ff" fill-opacity="0.8"/><rect x="143.38" y="427.56" width="3.17" height="4.14" fill="#0000ff" fill-opacity="0.8"/><rect x="148.34" y="427.87" width="3.17" height="3.83" fill="#0000ff" fill-opacity="0.8"/><rect x="153.29" y="427.73" width="3.17" height="3.97" fill="#0000ff" fill-opacity="0.8"/><rect x="158.25" y="427.66" width="3.17" height="4.04" fill="#0000ff" fill-opacity="0.8"/><rect x="163.21" y="427.75" width="3.17" height="3.95" fill="#0000ff" fill-opacity="0.8"/><rect x="168.16" y="427.67" width="3.17" height="4.03" fill="#0000ff" fill-opacity="0.8"/><rect x="173.12" y="427.57" width="3.17" height="4.13" fill="#0000ff" fill-opacity="0.8"/><rect x="178.07" y="427.74" width="3.17" height="3.96" fill="#0000ff" fill-opacity="0.8"/><rect x="183.03" y="427.39" width="3.17" height="4.31" fill="#0000ff" fill-opacity="0.8"/><rect x="187.98" y="427.17" width="3.17" height="4.53" fill="#0000ff" fill-opacity="0.8"/><rect x="192.94" y="426.99" width="3.17" height="4.71" fill="#0000ff" fill-opacity="0.8"/><rect x="197.89" y="427.07" width="3.17" height="4.63" fill="#0000ff" fill-opacity="0.8"/><rect x="202.85" y="426.64" width="3.17" height="5.06" fill="#0000ff" fill-opacity="0.8"/><rect x="207.81" y="426.44" width="3.17" height="5.26" fill="#0000ff" fill-opacity="0.8"/><rect x="212.76" y="426.08" width="3.17" height="5.62" fill="#0000ff" fill-opacity="0.8"/><rect x="217.72" y="426.29" width="3.17" height="5.41" fill="#0000ff" fill-opacity="0.8"/><rect x="222.67" y="426.05" width="3.17" height="5.65" fill="#0000ff" fill-opacity="0.8"/><rect x="227.63" y="425.33" width="3.17" height="6.37" fill="#0000ff" fill-opacity="0.8"/><rect x="232.58" y="426.17" width="3.17" height="5.53" fill="#0000ff" fill-opacity="0.8"/><rect x="237.54" y="425.47" width="3.17" height="6.23" fill="#0000ff" fill-opacity="0.8"/><rect x="242.49" y="425.74" width="3.17" height="5.96" fill="#0000ff" fill-opacity="0.8"/><rect x="247.45" y="424.61" width="3.17" height="7.09" fill="#0000ff" fill-opacity="0.8"/><rect x="252.41" y="424.46" width="3.17" height="7.24" fill="#0000ff" fill-opacity="0.8"/><rect x="257.36" y="424.39" width="3.17" height="7.31" fill="#0000ff" fill-opacity="0.8"/><rect x="262.32" y="423.48" width="3.17" height="8.22" fill="#0000ff" fill-opacity="0.8"/><rect x="267.27" y="421.20" width="3.17" height="10.50" fill="#0000ff" fill-opacity="0.8"/><rect x="272.23" y="419.04" width="3.17" height="12.66" fill="#0000ff" fill-opacity="0.8"/><rect x="277.18" y="415.41" width="3.17" height="16.29" fill="#0000ff" fill-opacity="0.8"/><rect x="282.14" y="408.09" width="3.17" height="23.61" fill="#0000ff" fill-opacity="0.8"/><rect x="287.09" y="278.00" width="3.17" height="153.70" fill="#0000ff" fill-opacity="0.8"/><rect x="70.29" y="430.01" width="3.17" height="1.69" fill="#ff0000" fill-opacity="0.7"/><rect x="75.11" y="428.36" width="3.17" height="3.34" fill="#ff0000" fill-opacity="0.7"/><rect x="79.92" y="427.15" width="3.17" height="4.55" fill="#ff0000" fill-opacity="0.7"/><rect x="84.74" y="426.22" width="3.17" height="5.48" fill="#ff0000" fill-opacity="0.7"/><rect x="89.56" y="423.71" width="3.17" height="7.99" fill="#ff0000" fill-opacity="0.7"/><rect x="94.38" y="423.55" width="3.17" height="8.15" fill="#ff0000" fill-opacity="0.7"/><rect x="99.20" y="419.22" width="3.17" height="12.48" fill="#ff0000" fill-opacity="0.7"/><rect x="104.01" y="419.07" width="3.17" height="12.63" fill="#ff0000" fill-opacity="0.7"/><rect x="108.83" y="418.53" width="3.17" height="13.17" fill="#ff0000" fill-opacity="0.7"/><rect x="113.65" y="416.98" width="3.17" height="14.72" fill="#ff0000" fill-opacity="0.7"/><rect x="118.47" y="416.67" width="3.17" height="15.03" fill="#ff0000" fill-opacity="0.7"/><rect x="123.29" y="417.12" width="3.17" height="14.58" fill="#ff0000" fill-opacity="0.7"/><rect x="128.10" y="415.94" width="3.17" height="15.76" fill="#ff0000" fill-opacity="0.7"/><rect x="132.92" y="411.75" width="3.17" height="19.95" fill="#ff0000" fill-opacity="0.7"/><rect x="137.74" y="412.13" width="3.17" height="19.57" fill="#ff0000" fill-opacity="0.7"/><rect x="142.56" y="411.96" width="3.17" height="19.74" fill="#ff0000" fill-opacity="0.7"/><rect x="147.38" y="415.15" width="3.17" height="16.55" fill="#ff0000" fill-opacity="0.7"/><rect x="152.19" y="416.52" width="3.17" height="15.18" fill="#ff0000" fill-opacity="0.7"/><rect x="157.01" y="416.31" width="3.17" height="15.39" fill="#ff0000" fill-opacity="0.7"/><rect x="161.83" y="415.71" width="3.17" height="15.99" fill="#ff0000" fill-opacity="0.7"/><rect x="166.65" y="415.92" width="3.17" height="15.78" fill="#ff0000" fill-opacity="0.7"/><rect x="171.46" y="416.09" width="3.17" height="15.61" fill="#ff0000" fill-opacity="0.7"/><rect x="176.28" y="417.70" width="3.17" height="14.00" fill="#ff0000" fill-opacity="0.7"/><rect x="181.10" y="419.20" width="3.17" height="12.50" fill="#ff0000" fill-opacity="0.7"/><rect x="185.92" y="419.38" width="3.17" height="12.32" fill="#ff0000" fill-opacity="0.7"/><rect x="190.74" y="419.20" width="3.17" height="12.50" fill="#ff0000" fill-opacity="0.7"/><rect x="195.55" y="420.96" width="3.17" height="10.74" fill="#ff0000" fill-opacity="0.7"/><rect x="200.37" y="422.93" width="3.17" height="8.77" fill="#ff0000" fill-opacity="0.7"/><rect x="205.19" y="422.18" width="3.17" height="9.52" fill="#ff0000" fill-opacity="0.7"/><rect x="210.01" y="422.18" width="3.17" height="9.52" fill="#ff0000" fill-opacity="0.7"/><rect x="214.83" y="424.07" width="3.17" height="7.63" fill="#ff0000" fill-opacity="0.7"/><rect x="219.64" y="424.40" width="3.17" height="7.30" fill="#ff0000" fill-opacity="0.7"/><rect x="224.46" y="423.86" width="3.17" height="7.84" fill="#ff0000" fill-opacity="0.7"/><rect x="229.28" y="424.40" width="3.17" height="7.30" fill="#ff0000" fill-opacity="0.7"/><rect x="234.10" y="427.11" width="3.17" height="4.59" fill="#ff0000" fill-opacity="0.7"/><rect x="238.92" y="426.35" width="3.17" height="5.35" fill="#ff0000" fill-opacity="0.7"/><rect x="243.73" y="427.75" width="3.17" height="3.95" fill="#ff0000" fill-opacity="0.7"/><rect x="248.55" y="428.87" width="3.17" height="2.83" fill="#ff0000" fill-opacity="0.7"/><rect x="253.37" y="427.11" width="3.17" height="4.59" fill="#ff0000" fill-opacity="0.7"/><rect x="258.19" y="426.14" width="3.17" height="5.56" fill="#ff0000" fill-opacity="0.7"/><rect x="263.00" y="430.24" width="3.17" height="1.46" fill="#ff0000" fill-opacity="0.7"/><rect x="267.82" y="428.81" width="3.17" height="2.89" fill="#ff0000" fill-opacity="0.7"/><rect x="272.64" y="428.52" width="3.17" height="3.18" fill="#ff0000" fill-opacity="0.7"/><rect x="277.46" y="429.64" width="3.17" height="2.06" fill="#ff0000" fill-opacity="0.7"/><rect x="282.28" y="429.39" width="3.17" height="2.31" fill="#ff0000" fill-opacity="0.7"/><rect x="287.09" y="429.39" width="3.17" height="2.31" fill="#ff0000" fill-opacity="0.7"/></g><line x1="163.81" y1="431.70" x2="163.81" y2="280.00" stroke="#ff0000" stroke-width="2.80" stroke-dasharray="10.30 4.45"/><line x1="251.31" y1="431.70" x2="251.31" y2="280.00" stroke="#0000ff" stroke-width="2.80" stroke-dasharray="10.30 4.45"/><text x="36.70" y="437.45" text-anchor="end" class="tk" font-size="14.60" textLength="10.06" lengthAdjust="spacingAndGlyphs">0</text><text x="36.70" y="399.52" text-anchor="end" class="tk" font-size="14.60" textLength="10.06" lengthAdjust="spacingAndGlyphs">5</text><text x="36.70" y="361.60" text-anchor="end" class="tk" font-size="14.60" textLength="20.12" lengthAdjust="spacingAndGlyphs">10</text><text x="36.70" y="323.68" text-anchor="end" class="tk" font-size="14.60" textLength="20.12" lengthAdjust="spacingAndGlyphs">15</text><text x="36.70" y="285.75" text-anchor="end" class="tk" font-size="14.60" textLength="20.12" lengthAdjust="spacingAndGlyphs">20</text><text x="41.00" y="448.20" text-anchor="middle" class="tk" font-size="14.60" textLength="25.60" lengthAdjust="spacingAndGlyphs">0.2</text><text x="103.50" y="448.20" text-anchor="middle" class="tk" font-size="14.60" textLength="25.60" lengthAdjust="spacingAndGlyphs">0.4</text><text x="166.00" y="448.20" text-anchor="middle" class="tk" font-size="14.60" textLength="25.60" lengthAdjust="spacingAndGlyphs">0.6</text><text x="228.50" y="448.20" text-anchor="middle" class="tk" font-size="14.60" textLength="25.60" lengthAdjust="spacingAndGlyphs">0.8</text><text x="291.00" y="448.20" text-anchor="middle" class="tk" font-size="14.60" textLength="25.60" lengthAdjust="spacingAndGlyphs">1.0</text><text x="166.00" y="463.60" text-anchor="middle" class="lb" font-size="14.50" textLength="246.00" lengthAdjust="spacingAndGlyphs">Confidence: Prediction Probability</text><text transform="translate(11.30,354.80) rotate(-90)" text-anchor="middle" class="lb" font-size="14.80" textLength="56.00" lengthAdjust="spacingAndGlyphs">Density</text><g stroke="#e4e4e1" stroke-width="1.2"><line x1="361.50" y1="433.60" x2="620.30" y2="433.60" /><line x1="361.50" y1="394.35" x2="620.30" y2="394.35" /><line x1="361.50" y1="355.10" x2="620.30" y2="355.10" /><line x1="361.50" y1="315.85" x2="620.30" y2="315.85" /><line x1="361.50" y1="276.60" x2="620.30" y2="276.60" /><line x1="426.20" y1="276.60" x2="426.20" y2="433.60" /><line x1="490.90" y1="276.60" x2="490.90" y2="433.60" /><line x1="555.60" y1="276.60" x2="555.60" y2="433.60" /></g><g stroke="#e4e4e1" stroke-width="1"><line x1="361.50" y1="276.60" x2="361.50" y2="434.10" /><line x1="361.50" y1="433.60" x2="620.30" y2="433.60" /></g><clipPath id="c56"><rect x="361.50" y="276.10" width="260.80" height="157.50"/></clipPath><g clip-path="url(#c56)"><g fill="#fff"><rect x="395.67" y="432.60" width="3.29" height="1.00"/><rect x="400.80" y="432.84" width="3.29" height="0.76"/><rect x="405.93" y="432.07" width="3.29" height="1.53"/><rect x="411.06" y="430.55" width="3.29" height="3.05"/><rect x="416.19" y="427.47" width="3.29" height="6.13"/><rect x="421.32" y="427.86" width="3.29" height="5.74"/><rect x="426.45" y="424.93" width="3.29" height="8.67"/><rect x="431.58" y="424.78" width="3.29" height="8.82"/><rect x="436.71" y="420.53" width="3.29" height="13.07"/><rect x="441.84" y="421.84" width="3.29" height="11.76"/><rect x="446.97" y="417.83" width="3.29" height="15.77"/><rect x="452.10" y="412.71" width="3.29" height="20.89"/><rect x="457.23" y="411.24" width="3.29" height="22.36"/><rect x="462.36" y="413.38" width="3.29" height="20.22"/><rect x="467.49" y="408.06" width="3.29" height="25.54"/><rect x="472.62" y="409.64" width="3.29" height="23.96"/><rect x="477.75" y="408.90" width="3.29" height="24.70"/><rect x="482.88" y="408.56" width="3.29" height="25.04"/><rect x="488.01" y="409.00" width="3.29" height="24.60"/><rect x="493.14" y="408.59" width="3.29" height="25.01"/><rect x="498.27" y="408.10" width="3.29" height="25.50"/><rect x="503.40" y="408.98" width="3.29" height="24.62"/><rect x="508.53" y="407.14" width="3.29" height="26.46"/><rect x="513.66" y="406.01" width="3.29" height="27.59"/><rect x="518.79" y="405.10" width="3.29" height="28.50"/><rect x="523.92" y="405.50" width="3.29" height="28.10"/><rect x="529.05" y="403.27" width="3.29" height="30.33"/><rect x="534.18" y="402.24" width="3.29" height="31.36"/><rect x="539.31" y="400.36" width="3.29" height="33.24"/><rect x="544.44" y="401.49" width="3.29" height="32.11"/><rect x="549.57" y="400.22" width="3.29" height="33.38"/><rect x="554.70" y="396.52" width="3.29" height="37.08"/><rect x="559.83" y="400.84" width="3.29" height="32.76"/><rect x="564.96" y="397.20" width="3.29" height="36.40"/><rect x="570.09" y="398.61" width="3.29" height="34.99"/><rect x="575.22" y="392.79" width="3.29" height="40.81"/><rect x="580.35" y="392.00" width="3.29" height="41.60"/><rect x="585.48" y="391.61" width="3.29" height="41.99"/><rect x="590.61" y="386.94" width="3.29" height="46.66"/><rect x="595.74" y="375.12" width="3.29" height="58.48"/><rect x="600.87" y="363.94" width="3.29" height="69.66"/><rect x="606.00" y="345.15" width="3.29" height="88.45"/><rect x="611.13" y="307.30" width="3.29" height="126.30"/><rect x="616.26" y="274.60" width="3.29" height="159.00"/><rect x="376.86" y="430.10" width="3.29" height="3.50"/><rect x="381.84" y="430.10" width="3.29" height="3.50"/><rect x="386.83" y="429.00" width="3.29" height="4.60"/><rect x="391.82" y="420.70" width="3.29" height="12.90"/><rect x="396.81" y="412.20" width="3.29" height="21.40"/><rect x="401.79" y="405.90" width="3.29" height="27.70"/><rect x="406.78" y="401.10" width="3.29" height="32.50"/><rect x="411.77" y="388.10" width="3.29" height="45.50"/><rect x="416.76" y="387.30" width="3.29" height="46.30"/><rect x="421.74" y="364.90" width="3.29" height="68.70"/><rect x="426.73" y="364.10" width="3.29" height="69.50"/><rect x="431.72" y="361.30" width="3.29" height="72.30"/><rect x="436.71" y="353.30" width="3.29" height="80.30"/><rect x="441.69" y="351.70" width="3.29" height="81.90"/><rect x="446.68" y="354.00" width="3.29" height="79.60"/><rect x="451.67" y="347.90" width="3.29" height="85.70"/><rect x="456.66" y="326.20" width="3.29" height="107.40"/><rect x="461.64" y="328.20" width="3.29" height="105.40"/><rect x="466.63" y="327.30" width="3.29" height="106.30"/><rect x="471.62" y="343.80" width="3.29" height="89.80"/><rect x="476.61" y="350.90" width="3.29" height="82.70"/><rect x="481.59" y="349.80" width="3.29" height="83.80"/><rect x="486.58" y="346.70" width="3.29" height="86.90"/><rect x="491.57" y="347.80" width="3.29" height="85.80"/><rect x="496.56" y="348.70" width="3.29" height="84.90"/><rect x="501.54" y="357.00" width="3.29" height="76.60"/><rect x="506.53" y="364.80" width="3.29" height="68.80"/><rect x="511.52" y="365.70" width="3.29" height="67.90"/><rect x="516.51" y="364.80" width="3.29" height="68.80"/><rect x="521.49" y="373.90" width="3.29" height="59.70"/><rect x="526.48" y="384.10" width="3.29" height="49.50"/><rect x="531.47" y="380.20" width="3.29" height="53.40"/><rect x="536.46" y="380.20" width="3.29" height="53.40"/><rect x="541.44" y="390.00" width="3.29" height="43.60"/><rect x="546.43" y="391.70" width="3.29" height="41.90"/><rect x="551.42" y="388.90" width="3.29" height="44.70"/><rect x="556.41" y="391.70" width="3.29" height="41.90"/><rect x="561.39" y="405.70" width="3.29" height="27.90"/><rect x="566.38" y="401.80" width="3.29" height="31.80"/><rect x="571.37" y="409.00" width="3.29" height="24.60"/><rect x="576.36" y="414.80" width="3.29" height="18.80"/><rect x="581.34" y="405.70" width="3.29" height="27.90"/><rect x="586.33" y="400.70" width="3.29" height="32.90"/><rect x="591.32" y="421.90" width="3.29" height="11.70"/><rect x="596.31" y="414.50" width="3.29" height="19.10"/><rect x="601.29" y="413.00" width="3.29" height="20.60"/><rect x="606.28" y="418.80" width="3.29" height="14.80"/><rect x="611.27" y="417.50" width="3.29" height="16.10"/><rect x="616.26" y="417.50" width="3.29" height="16.10"/></g><rect x="395.67" y="432.60" width="3.29" height="1.00" fill="#0000ff" fill-opacity="0.8"/><rect x="400.80" y="432.84" width="3.29" height="0.76" fill="#0000ff" fill-opacity="0.8"/><rect x="405.93" y="432.07" width="3.29" height="1.53" fill="#0000ff" fill-opacity="0.8"/><rect x="411.06" y="430.55" width="3.29" height="3.05" fill="#0000ff" fill-opacity="0.8"/><rect x="416.19" y="427.47" width="3.29" height="6.13" fill="#0000ff" fill-opacity="0.8"/><rect x="421.32" y="427.86" width="3.29" height="5.74" fill="#0000ff" fill-opacity="0.8"/><rect x="426.45" y="424.93" width="3.29" height="8.67" fill="#0000ff" fill-opacity="0.8"/><rect x="431.58" y="424.78" width="3.29" height="8.82" fill="#0000ff" fill-opacity="0.8"/><rect x="436.71" y="420.53" width="3.29" height="13.07" fill="#0000ff" fill-opacity="0.8"/><rect x="441.84" y="421.84" width="3.29" height="11.76" fill="#0000ff" fill-opacity="0.8"/><rect x="446.97" y="417.83" width="3.29" height="15.77" fill="#0000ff" fill-opacity="0.8"/><rect x="452.10" y="412.71" width="3.29" height="20.89" fill="#0000ff" fill-opacity="0.8"/><rect x="457.23" y="411.24" width="3.29" height="22.36" fill="#0000ff" fill-opacity="0.8"/><rect x="462.36" y="413.38" width="3.29" height="20.22" fill="#0000ff" fill-opacity="0.8"/><rect x="467.49" y="408.06" width="3.29" height="25.54" fill="#0000ff" fill-opacity="0.8"/><rect x="472.62" y="409.64" width="3.29" height="23.96" fill="#0000ff" fill-opacity="0.8"/><rect x="477.75" y="408.90" width="3.29" height="24.70" fill="#0000ff" fill-opacity="0.8"/><rect x="482.88" y="408.56" width="3.29" height="25.04" fill="#0000ff" fill-opacity="0.8"/><rect x="488.01" y="409.00" width="3.29" height="24.60" fill="#0000ff" fill-opacity="0.8"/><rect x="493.14" y="408.59" width="3.29" height="25.01" fill="#0000ff" fill-opacity="0.8"/><rect x="498.27" y="408.10" width="3.29" height="25.50" fill="#0000ff" fill-opacity="0.8"/><rect x="503.40" y="408.98" width="3.29" height="24.62" fill="#0000ff" fill-opacity="0.8"/><rect x="508.53" y="407.14" width="3.29" height="26.46" fill="#0000ff" fill-opacity="0.8"/><rect x="513.66" y="406.01" width="3.29" height="27.59" fill="#0000ff" fill-opacity="0.8"/><rect x="518.79" y="405.10" width="3.29" height="28.50" fill="#0000ff" fill-opacity="0.8"/><rect x="523.92" y="405.50" width="3.29" height="28.10" fill="#0000ff" fill-opacity="0.8"/><rect x="529.05" y="403.27" width="3.29" height="30.33" fill="#0000ff" fill-opacity="0.8"/><rect x="534.18" y="402.24" width="3.29" height="31.36" fill="#0000ff" fill-opacity="0.8"/><rect x="539.31" y="400.36" width="3.29" height="33.24" fill="#0000ff" fill-opacity="0.8"/><rect x="544.44" y="401.49" width="3.29" height="32.11" fill="#0000ff" fill-opacity="0.8"/><rect x="549.57" y="400.22" width="3.29" height="33.38" fill="#0000ff" fill-opacity="0.8"/><rect x="554.70" y="396.52" width="3.29" height="37.08" fill="#0000ff" fill-opacity="0.8"/><rect x="559.83" y="400.84" width="3.29" height="32.76" fill="#0000ff" fill-opacity="0.8"/><rect x="564.96" y="397.20" width="3.29" height="36.40" fill="#0000ff" fill-opacity="0.8"/><rect x="570.09" y="398.61" width="3.29" height="34.99" fill="#0000ff" fill-opacity="0.8"/><rect x="575.22" y="392.79" width="3.29" height="40.81" fill="#0000ff" fill-opacity="0.8"/><rect x="580.35" y="392.00" width="3.29" height="41.60" fill="#0000ff" fill-opacity="0.8"/><rect x="585.48" y="391.61" width="3.29" height="41.99" fill="#0000ff" fill-opacity="0.8"/><rect x="590.61" y="386.94" width="3.29" height="46.66" fill="#0000ff" fill-opacity="0.8"/><rect x="595.74" y="375.12" width="3.29" height="58.48" fill="#0000ff" fill-opacity="0.8"/><rect x="600.87" y="363.94" width="3.29" height="69.66" fill="#0000ff" fill-opacity="0.8"/><rect x="606.00" y="345.15" width="3.29" height="88.45" fill="#0000ff" fill-opacity="0.8"/><rect x="611.13" y="307.30" width="3.29" height="126.30" fill="#0000ff" fill-opacity="0.8"/><rect x="616.26" y="274.60" width="3.29" height="159.00" fill="#0000ff" fill-opacity="0.8"/><rect x="376.86" y="430.10" width="3.29" height="3.50" fill="#ff0000" fill-opacity="0.7"/><rect x="381.84" y="430.10" width="3.29" height="3.50" fill="#ff0000" fill-opacity="0.7"/><rect x="386.83" y="429.00" width="3.29" height="4.60" fill="#ff0000" fill-opacity="0.7"/><rect x="391.82" y="420.70" width="3.29" height="12.90" fill="#ff0000" fill-opacity="0.7"/><rect x="396.81" y="412.20" width="3.29" height="21.40" fill="#ff0000" fill-opacity="0.7"/><rect x="401.79" y="405.90" width="3.29" height="27.70" fill="#ff0000" fill-opacity="0.7"/><rect x="406.78" y="401.10" width="3.29" height="32.50" fill="#ff0000" fill-opacity="0.7"/><rect x="411.77" y="388.10" width="3.29" height="45.50" fill="#ff0000" fill-opacity="0.7"/><rect x="416.76" y="387.30" width="3.29" height="46.30" fill="#ff0000" fill-opacity="0.7"/><rect x="421.74" y="364.90" width="3.29" height="68.70" fill="#ff0000" fill-opacity="0.7"/><rect x="426.73" y="364.10" width="3.29" height="69.50" fill="#ff0000" fill-opacity="0.7"/><rect x="431.72" y="361.30" width="3.29" height="72.30" fill="#ff0000" fill-opacity="0.7"/><rect x="436.71" y="353.30" width="3.29" height="80.30" fill="#ff0000" fill-opacity="0.7"/><rect x="441.69" y="351.70" width="3.29" height="81.90" fill="#ff0000" fill-opacity="0.7"/><rect x="446.68" y="354.00" width="3.29" height="79.60" fill="#ff0000" fill-opacity="0.7"/><rect x="451.67" y="347.90" width="3.29" height="85.70" fill="#ff0000" fill-opacity="0.7"/><rect x="456.66" y="326.20" width="3.29" height="107.40" fill="#ff0000" fill-opacity="0.7"/><rect x="461.64" y="328.20" width="3.29" height="105.40" fill="#ff0000" fill-opacity="0.7"/><rect x="466.63" y="327.30" width="3.29" height="106.30" fill="#ff0000" fill-opacity="0.7"/><rect x="471.62" y="343.80" width="3.29" height="89.80" fill="#ff0000" fill-opacity="0.7"/><rect x="476.61" y="350.90" width="3.29" height="82.70" fill="#ff0000" fill-opacity="0.7"/><rect x="481.59" y="349.80" width="3.29" height="83.80" fill="#ff0000" fill-opacity="0.7"/><rect x="486.58" y="346.70" width="3.29" height="86.90" fill="#ff0000" fill-opacity="0.7"/><rect x="491.57" y="347.80" width="3.29" height="85.80" fill="#ff0000" fill-opacity="0.7"/><rect x="496.56" y="348.70" width="3.29" height="84.90" fill="#ff0000" fill-opacity="0.7"/><rect x="501.54" y="357.00" width="3.29" height="76.60" fill="#ff0000" fill-opacity="0.7"/><rect x="506.53" y="364.80" width="3.29" height="68.80" fill="#ff0000" fill-opacity="0.7"/><rect x="511.52" y="365.70" width="3.29" height="67.90" fill="#ff0000" fill-opacity="0.7"/><rect x="516.51" y="364.80" width="3.29" height="68.80" fill="#ff0000" fill-opacity="0.7"/><rect x="521.49" y="373.90" width="3.29" height="59.70" fill="#ff0000" fill-opacity="0.7"/><rect x="526.48" y="384.10" width="3.29" height="49.50" fill="#ff0000" fill-opacity="0.7"/><rect x="531.47" y="380.20" width="3.29" height="53.40" fill="#ff0000" fill-opacity="0.7"/><rect x="536.46" y="380.20" width="3.29" height="53.40" fill="#ff0000" fill-opacity="0.7"/><rect x="541.44" y="390.00" width="3.29" height="43.60" fill="#ff0000" fill-opacity="0.7"/><rect x="546.43" y="391.70" width="3.29" height="41.90" fill="#ff0000" fill-opacity="0.7"/><rect x="551.42" y="388.90" width="3.29" height="44.70" fill="#ff0000" fill-opacity="0.7"/><rect x="556.41" y="391.70" width="3.29" height="41.90" fill="#ff0000" fill-opacity="0.7"/><rect x="561.39" y="405.70" width="3.29" height="27.90" fill="#ff0000" fill-opacity="0.7"/><rect x="566.38" y="401.80" width="3.29" height="31.80" fill="#ff0000" fill-opacity="0.7"/><rect x="571.37" y="409.00" width="3.29" height="24.60" fill="#ff0000" fill-opacity="0.7"/><rect x="576.36" y="414.80" width="3.29" height="18.80" fill="#ff0000" fill-opacity="0.7"/><rect x="581.34" y="405.70" width="3.29" height="27.90" fill="#ff0000" fill-opacity="0.7"/><rect x="586.33" y="400.70" width="3.29" height="32.90" fill="#ff0000" fill-opacity="0.7"/><rect x="591.32" y="421.90" width="3.29" height="11.70" fill="#ff0000" fill-opacity="0.7"/><rect x="596.31" y="414.50" width="3.29" height="19.10" fill="#ff0000" fill-opacity="0.7"/><rect x="601.29" y="413.00" width="3.29" height="20.60" fill="#ff0000" fill-opacity="0.7"/><rect x="606.28" y="418.80" width="3.29" height="14.80" fill="#ff0000" fill-opacity="0.7"/><rect x="611.27" y="417.50" width="3.29" height="16.10" fill="#ff0000" fill-opacity="0.7"/><rect x="616.26" y="417.50" width="3.29" height="16.10" fill="#ff0000" fill-opacity="0.7"/></g><line x1="488.64" y1="433.60" x2="488.64" y2="276.60" stroke="#ff0000" stroke-width="2.90" stroke-dasharray="10.66 4.61"/><line x1="579.22" y1="433.60" x2="579.22" y2="276.60" stroke="#0000ff" stroke-width="2.90" stroke-dasharray="10.66 4.61"/><text x="357.05" y="439.83" text-anchor="end" class="tk" font-size="15.11" textLength="10.41" lengthAdjust="spacingAndGlyphs">0</text><text x="357.05" y="400.58" text-anchor="end" class="tk" font-size="15.11" textLength="10.41" lengthAdjust="spacingAndGlyphs">1</text><text x="357.05" y="361.33" text-anchor="end" class="tk" font-size="15.11" textLength="10.41" lengthAdjust="spacingAndGlyphs">2</text><text x="357.05" y="322.08" text-anchor="end" class="tk" font-size="15.11" textLength="10.41" lengthAdjust="spacingAndGlyphs">3</text><text x="357.05" y="282.83" text-anchor="end" class="tk" font-size="15.11" textLength="10.41" lengthAdjust="spacingAndGlyphs">4</text><text x="361.50" y="449.20" text-anchor="middle" class="tk" font-size="15.11" textLength="26.50" lengthAdjust="spacingAndGlyphs">0.2</text><text x="426.20" y="449.20" text-anchor="middle" class="tk" font-size="15.11" textLength="26.50" lengthAdjust="spacingAndGlyphs">0.4</text><text x="490.90" y="449.20" text-anchor="middle" class="tk" font-size="15.11" textLength="26.50" lengthAdjust="spacingAndGlyphs">0.6</text><text x="555.60" y="449.20" text-anchor="middle" class="tk" font-size="15.11" textLength="26.50" lengthAdjust="spacingAndGlyphs">0.8</text><text x="620.30" y="449.20" text-anchor="middle" class="tk" font-size="15.11" textLength="26.50" lengthAdjust="spacingAndGlyphs">1.0</text><text x="490.90" y="466.60" text-anchor="middle" class="lb" font-size="15.01" textLength="254.61" lengthAdjust="spacingAndGlyphs">Confidence: Prediction Probability</text><text transform="translate(341.00,354.80) rotate(-90)" text-anchor="middle" class="lb" font-size="15.32" textLength="57.96" lengthAdjust="spacingAndGlyphs">Density</text><text x="45.1" y="260.3" class="cap">(a) Baseline Env1-Test</text><text x="323.0" y="262.6" class="cap">(b) Baseline Env1-Test (Zoomed)</text><text x="70.1" y="499.4" class="cap">(c) GP Env1-Test</text><text x="348.25" y="502.25" class="cap">(d) GP Env1-Test (Zoomed)</text>
</svg>
</body></html>
